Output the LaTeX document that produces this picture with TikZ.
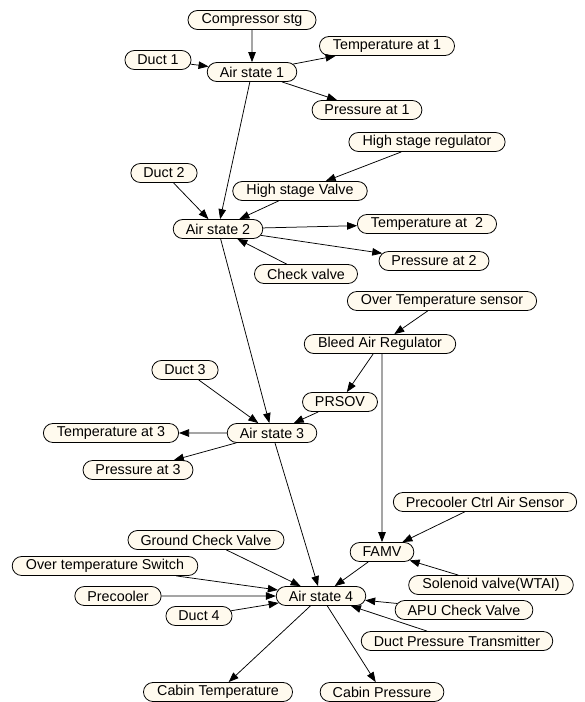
\documentclass[tikz,border=0pt]{standalone}
\usepackage{fontspec}
\setmainfont{Liberation Sans}
\usetikzlibrary{shapes.misc,arrows.meta}
\definecolor{nodefill}{HTML}{FFFAEE}
\tikzset{
  box/.style={rounded rectangle, draw=black, line width=0.8pt, fill=nodefill,
    minimum height=19pt, inner xsep=11pt, inner ysep=0pt,
    font=\fontsize{14.3pt}{16pt}\selectfont},
  conn/.style={line width=0.75pt, -{Triangle[length=10pt,width=7.5pt]}},
  plain/.style={line width=0.7pt}
}
\begin{document}
\begin{tikzpicture}[x=1pt,y=-1pt]
\useasboundingbox (0,0) rectangle (585,702);
% level 1
\node[box] (comp) at (252,20) {Compressor stg};
\node[box] (d1) at (158,60) {Duct 1};
\node[box] (as1) at (252,72) {Air state 1};
\node[box] (t1) at (387,46) {Temperature at 1};
\node[box] (p1) at (367,110) {Pressure at 1};
% level 2
\node[box] (hsr) at (427,142) {High stage regulator};
\node[box] (d2) at (164,173) {Duct 2};
\node[box] (hsv) at (300,191) {High stage Valve};
\node[box] (as2) at (218,229) {Air state 2};
\node[box] (t2) at (427,224) {Temperature at~~2};
\node[box] (p2) at (434,261) {Pressure at 2};
\node[box] (cv) at (306,274) {Check valve};
% level 3
\node[box] (ots) at (442,301) {Over Temperature sensor};
\node[box] (bar) at (380,344) {Bleed Air Regulator};
\node[box] (d3) at (185,370) {Duct 3};
\node[box] (prsov) at (340,402) {PRSOV};
\node[box] (as3) at (272,433) {Air state 3};
\node[box] (t3) at (111,433) {Temperature at 3};
\node[box] (p3) at (138,470) {Pressure at 3};
% level 4
\node[box] (pcas) at (485,502) {Precooler Ctrl Air Sensor};
\node[box] (gcv) at (206,540) {Ground Check Valve};
\node[box] (famv) at (382,552) {FAMV};
\node[box] (otsw) at (105,566) {Over temperature Switch};
\node[box] (sol) at (491,585) {Solenoid valve(WTAI)};
\node[box] (pre) at (118,596) {Precooler};
\node[box] (as4) at (321,596) {Air state 4};
\node[box] (apu) at (464,610) {APU Check Valve};
\node[box] (d4) at (199,616) {Duct 4};
\node[box] (dpt) at (457,641) {Duct Pressure Transmitter};
\node[box] (ct) at (218,692) {Cabin Temperature};
\node[box] (cp) at (382,692) {Cabin Pressure};
% edges level 1
\draw[conn] (comp) -- (as1);
\draw[conn] (d1) -- (as1);
\draw[conn] (as1) -- (t1);
\draw[conn] (as1) -- (p1);
\draw[conn] (as1) -- (as2);
% level 2
\draw[conn] (hsr) -- (hsv);
\draw[conn] (d2) -- (as2);
\draw[conn] (hsv) -- (as2);
\draw[conn] (as2) -- (t2);
\draw[conn] (as2) -- (p2);
\draw[conn] (cv) -- (as2);
\draw[conn] (as2) -- (as3);
% level 3
\draw[conn] (ots) -- (bar);
\draw[conn] (bar) -- (prsov);
\draw[conn] (bar.south -| famv.north) -- (famv);
\draw[conn] (d3) -- (as3);
\draw[conn] (prsov) -- (as3);
\draw[conn] (as3) -- (t3);
\draw[conn] (as3) -- (p3);
\draw[conn] (as3) -- (as4);
% level 4
\draw[conn] (pcas) -- (famv);
\draw[conn] (sol) -- (famv);
\draw[conn] (famv) -- (as4);
\draw[conn] (gcv) -- (as4);
\draw[conn] (otsw) -- (as4);
\draw[conn] (pre) -- (as4);
\draw[conn] (d4) -- (as4);
\draw[conn] (apu) -- (as4);
\draw[conn] (dpt) -- (as4);
\draw[conn] (as4) -- (ct);
\draw[conn] (as4) -- (cp);
\end{tikzpicture}
\end{document}
